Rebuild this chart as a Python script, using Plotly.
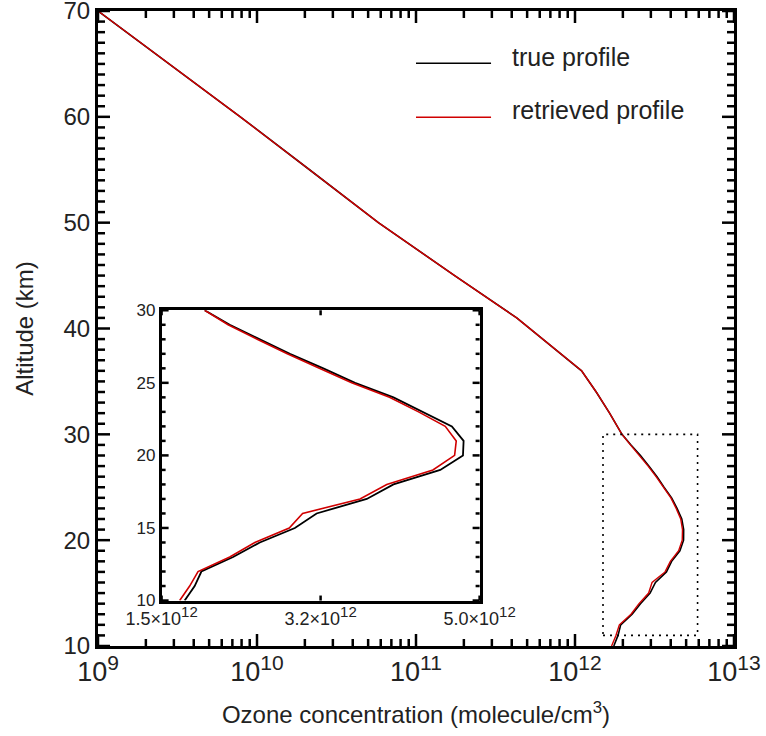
import math
import plotly.graph_objects as go

# ---- data ----
alt_upper = [70, 65, 60, 55, 50, 45, 41, 36, 34, 32]
conc_upper = [1.0e9, 2.8e9, 7.85e9, 2.14e10, 5.8e10, 1.75e11, 4.3e11, 1.1e12, 1.36e12, 1.65e12]

alt_lower = [30, 29, 28, 27, 26, 25, 24, 23, 22, 21, 20, 19, 18, 17, 16, 15, 14, 13, 12, 11, 10]
true_lower = [1.974, 2.250, 2.581, 2.912, 3.280, 3.629, 4.052, 4.383, 4.695, 4.824, 4.817,
              4.567, 4.052, 3.758, 3.206, 2.967, 2.581, 2.287, 1.938, 1.864, 1.754]
retr_lower = [1.974, 2.232, 2.552, 2.883, 3.236, 3.592, 4.008, 4.328, 4.622, 4.743, 4.725,
              4.486, 3.978, 3.684, 3.052, 2.905, 2.526, 2.250, 1.901, 1.809, 1.699]
scale_lower = 1e12

main_xticks = [1e9, 1e10, 1e11, 1e12, 1e13]
main_xexp = ["9", "10", "11", "12", "13"]
main_yticks = [10, 20, 30, 40, 50, 60, 70]
inset_xticks = [1.5e12, 3.25e12, 5.0e12]
inset_xmant = ["1.5", "3.2", "5.0"]
inset_yticks = [10, 15, 20, 25, 30]

box_x = [1.5e12, 5.9e12]
box_y = [11, 30]

series_names = ["true profile", "retrieved profile"]

# ---- layout geometry ----
W, H = 766, 736
ML, MR, MT, MB = 98, 32, 11, 90
MAIN_XR = [9, 13]          # log10 range
MAIN_YR = [10, 70]
INSET_XR = [1.5e12, 5.0e12]
INSET_YR = [10, 30]
INSET_XD = [0.1, 0.6]
INSET_YD = [0.0716, 0.5287]

# ---- build ----
alt_all = alt_upper + alt_lower
true_all = conc_upper + [v * scale_lower for v in true_lower]
retr_all = conc_upper + [v * scale_lower for v in retr_lower]

main_xticktext = ["10<sup><span style='font-size:21px'>%s</span></sup>" % e for e in main_xexp]
inset_xticktext = ["%s×10<sup><span style='font-size:15px'>12</span></sup>" % m for m in inset_xmant]

main_xminor = [m * 10.0 ** e for e in range(9, 13) for m in range(2, 10)]
main_yminor = [v for v in range(10, 71) if v % 10]
inset_yminor = [v for v in range(10, 31) if v % 5]

FONT = "Liberation Sans"
TXT = "#222222"
BLACK = "#000000"
RED = "#d00000"

fig = go.Figure()
fig.add_trace(go.Scatter(x=true_all, y=alt_all, mode="lines", line=dict(color=BLACK, width=1.6),
                         xaxis="x", yaxis="y", showlegend=False))
fig.add_trace(go.Scatter(x=retr_all, y=alt_all, mode="lines", line=dict(color=RED, width=1.4),
                         xaxis="x", yaxis="y", showlegend=False))

# dotted zoom box
fig.add_trace(go.Scatter(x=[box_x[0], box_x[1], box_x[1], box_x[0], box_x[0]],
                         y=[box_y[0], box_y[0], box_y[1], box_y[1], box_y[0]],
                         mode="lines", line=dict(color=BLACK, width=1.6, dash="2px,5px"),
                         xaxis="x", yaxis="y", showlegend=False, hoverinfo="skip"))

# inset
fig.add_trace(go.Scatter(x=[v * scale_lower for v in true_lower], y=alt_lower, mode="lines",
                         line=dict(color=BLACK, width=1.8), xaxis="x2", yaxis="y2", showlegend=False))
fig.add_trace(go.Scatter(x=[v * scale_lower for v in retr_lower], y=alt_lower, mode="lines",
                         line=dict(color=RED, width=1.6), xaxis="x2", yaxis="y2", showlegend=False))

common = dict(showgrid=False, zeroline=False, automargin=False, ticks="")

fig.update_layout(
    template="none",
    width=W, height=H,
    margin=dict(l=ML, r=MR, t=MT, b=MB),
    paper_bgcolor="white", plot_bgcolor="white",
    font=dict(family=FONT, color=TXT),
    showlegend=False,
    xaxis=dict(
        type="log", range=MAIN_XR, domain=[0, 1], anchor="y",
        tickmode="array", tickvals=main_xticks, ticktext=main_xticktext,
        tickfont=dict(size=27, color=TXT, family=FONT), ticklabeloverflow="allow",
        showline=True, linecolor=BLACK, linewidth=3, mirror=True,
        title=dict(text="Ozone concentration (molecule/cm<sup>3</sup>)",
                   font=dict(size=24, color=TXT, family=FONT), standoff=20),
        **common,
    ),
    yaxis=dict(
        range=MAIN_YR, domain=[0, 1], anchor="x",
        tickmode="array", tickvals=main_yticks,
        tickfont=dict(size=24, color=TXT, family=FONT), ticklabeloverflow="allow",
        showline=True, linecolor=BLACK, linewidth=3, mirror=True,
        title=dict(text="Altitude (km)", font=dict(size=24, color=TXT, family=FONT), standoff=24),
        **common,
    ),
    xaxis2=dict(
        range=INSET_XR, domain=INSET_XD, anchor="y2",
        tickmode="array", tickvals=inset_xticks, ticktext=inset_xticktext,
        tickfont=dict(size=18, color=TXT, family=FONT), ticklabeloverflow="allow",
        showline=True, linecolor=BLACK, linewidth=2.5, mirror=True,
        **common,
    ),
    yaxis2=dict(
        range=INSET_YR, domain=INSET_YD, anchor="x2",
        tickmode="array", tickvals=inset_yticks,
        tickfont=dict(size=17, color=TXT, family=FONT), ticklabeloverflow="allow",
        showline=True, linecolor=BLACK, linewidth=2.5, mirror=True,
        **common,
    ),
)

# ---- inward tick marks on all four sides (paper-space lines mapped from each axis range) ----
pw, ph = W - ML - MR, H - MT - MB


def main_xfrac(v):
    return (math.log10(v) - MAIN_XR[0]) / (MAIN_XR[1] - MAIN_XR[0])


def main_yfrac(v):
    return (v - MAIN_YR[0]) / (MAIN_YR[1] - MAIN_YR[0])


def inset_xfrac(v):
    return INSET_XD[0] + (INSET_XD[1] - INSET_XD[0]) * (v - INSET_XR[0]) / (INSET_XR[1] - INSET_XR[0])


def inset_yfrac(v):
    return INSET_YD[0] + (INSET_YD[1] - INSET_YD[0]) * (v - INSET_YR[0]) / (INSET_YR[1] - INSET_YR[0])


def tick(x0, y0, x1, y1):
    fig.add_shape(type="line", xref="paper", yref="paper", x0=x0, y0=y0, x1=x1, y1=y1,
                  line=dict(color=BLACK, width=2.5), layer="above")


def vticks(values, fx, ybot, ytop, length):
    d = length / ph
    for v in values:
        xp = fx(v)
        tick(xp, ybot, xp, ybot + d)
        tick(xp, ytop, xp, ytop - d)


def hticks(values, fy, xleft, xright, length):
    d = length / pw
    for v in values:
        yp = fy(v)
        tick(xleft, yp, xleft + d, yp)
        tick(xright, yp, xright - d, yp)


vticks(main_xticks, main_xfrac, 0, 1, 12)
vticks(main_xminor, main_xfrac, 0, 1, 7)
hticks(main_yticks, main_yfrac, 0, 1, 12)
hticks(main_yminor, main_yfrac, 0, 1, 7)
vticks(inset_xticks, inset_xfrac, INSET_YD[0], INSET_YD[1], 5)
hticks(inset_yticks, inset_yfrac, INSET_XD[0], INSET_XD[1], 7)
hticks(inset_yminor, inset_yfrac, INSET_XD[0], INSET_XD[1], 4)

# legend drawn as line samples + labels
leg_rows = [(0.9177, 0.927, BLACK, series_names[0]), (0.8327, 0.8434, RED, series_names[1])]
for ly, ty, col, name in leg_rows:
    fig.add_shape(type="line", xref="paper", yref="paper", x0=0.5, x1=0.618, y0=ly, y1=ly,
                  line=dict(color=col, width=1.6))
    fig.add_annotation(xref="paper", yref="paper", x=0.648, y=ty, text=name, showarrow=False,
                       xanchor="left", yanchor="middle", font=dict(size=25, color=TXT, family=FONT))

fig.write_html("out.html")
